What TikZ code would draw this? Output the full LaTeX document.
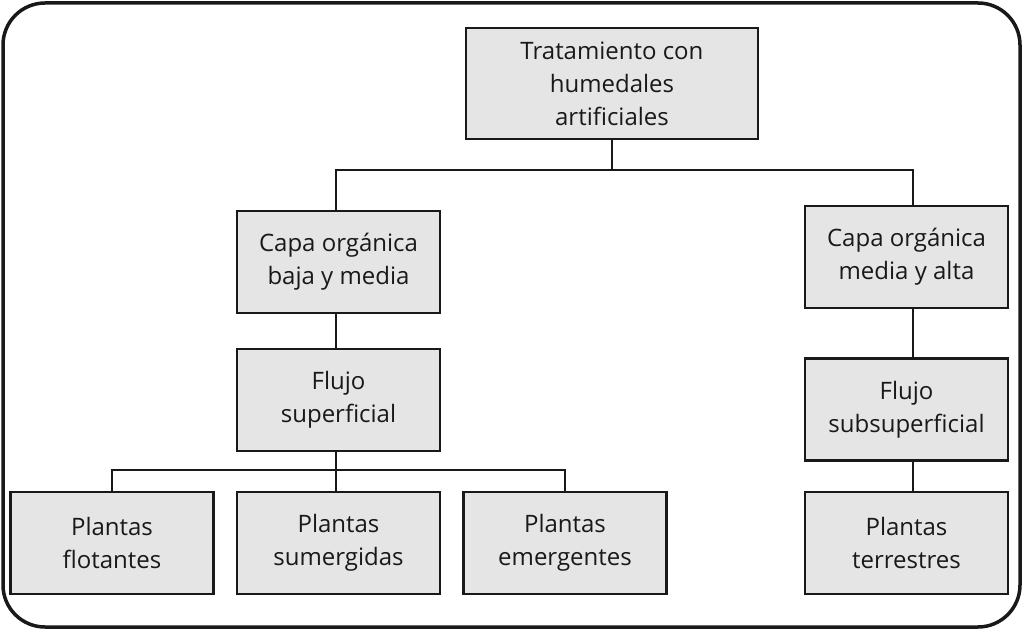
\documentclass[tikz,border=0pt]{standalone}
\usepackage{fontspec}
\setmainfont{Open Sans}
\begin{document}
\begin{tikzpicture}[x=1pt,y=-1pt,
  box/.style={draw=black!90,line width=2.4pt,fill=black!10,inner sep=0pt,
    minimum width=203pt,minimum height=102pt,align=center,
    font=\fontsize{24}{33}\selectfont,text=black!90},
  conn/.style={line width=2pt,draw=black!90}]
\useasboundingbox (0,0) rectangle (1023,631);
\draw[line width=3.5pt,rounded corners=42pt,black!90] (3,3) rectangle (1020,627);
\node[box,minimum width=292pt,minimum height=111pt] (top) at (612,83.5) {Tratamiento con\\humedales\\artificiales};
\node[box] (capaL) at (338.5,262) {Capa orgánica\\baja y media};
\node[box] (capaR) at (906.5,257) {Capa orgánica\\media y alta};
\node[box] (flujoL) at (338.5,400) {Flujo\\superficial};
\node[box] (flujoR) at (906.5,409.5) {Flujo\\subsuperficial};
\node[box] (p1) at (112,543) {Plantas\\flotantes};
\node[box] (p2) at (338.5,543) {Plantas\\sumergidas};
\node[box] (p3) at (565,543) {Plantas\\emergentes};
\node[box] (p4) at (906.5,543) {Plantas\\terrestres};
\coordinate (j1) at (612,170);
\coordinate (j2) at (336,470);
\draw[conn] (top.south) -- (j1);
\draw[conn] (capaL.north -| 336,0) |- (j1) -| (capaR.north -| 913,0);
\draw[conn] (capaL.south -| 336,0) -- (flujoL.north -| 336,0);
\draw[conn] (flujoL.south -| 336,0) -- (j2);
\draw[conn] (p1.north) |- (j2) -| (p3.north);
\draw[conn] (j2) -- (p2.north -| 336,0);
\draw[conn] (capaR.south -| 913,0) -- (flujoR.north -| 913,0);
\draw[conn] (flujoR.south -| 913,0) -- (p4.north -| 913,0);
\end{tikzpicture}
\end{document}
